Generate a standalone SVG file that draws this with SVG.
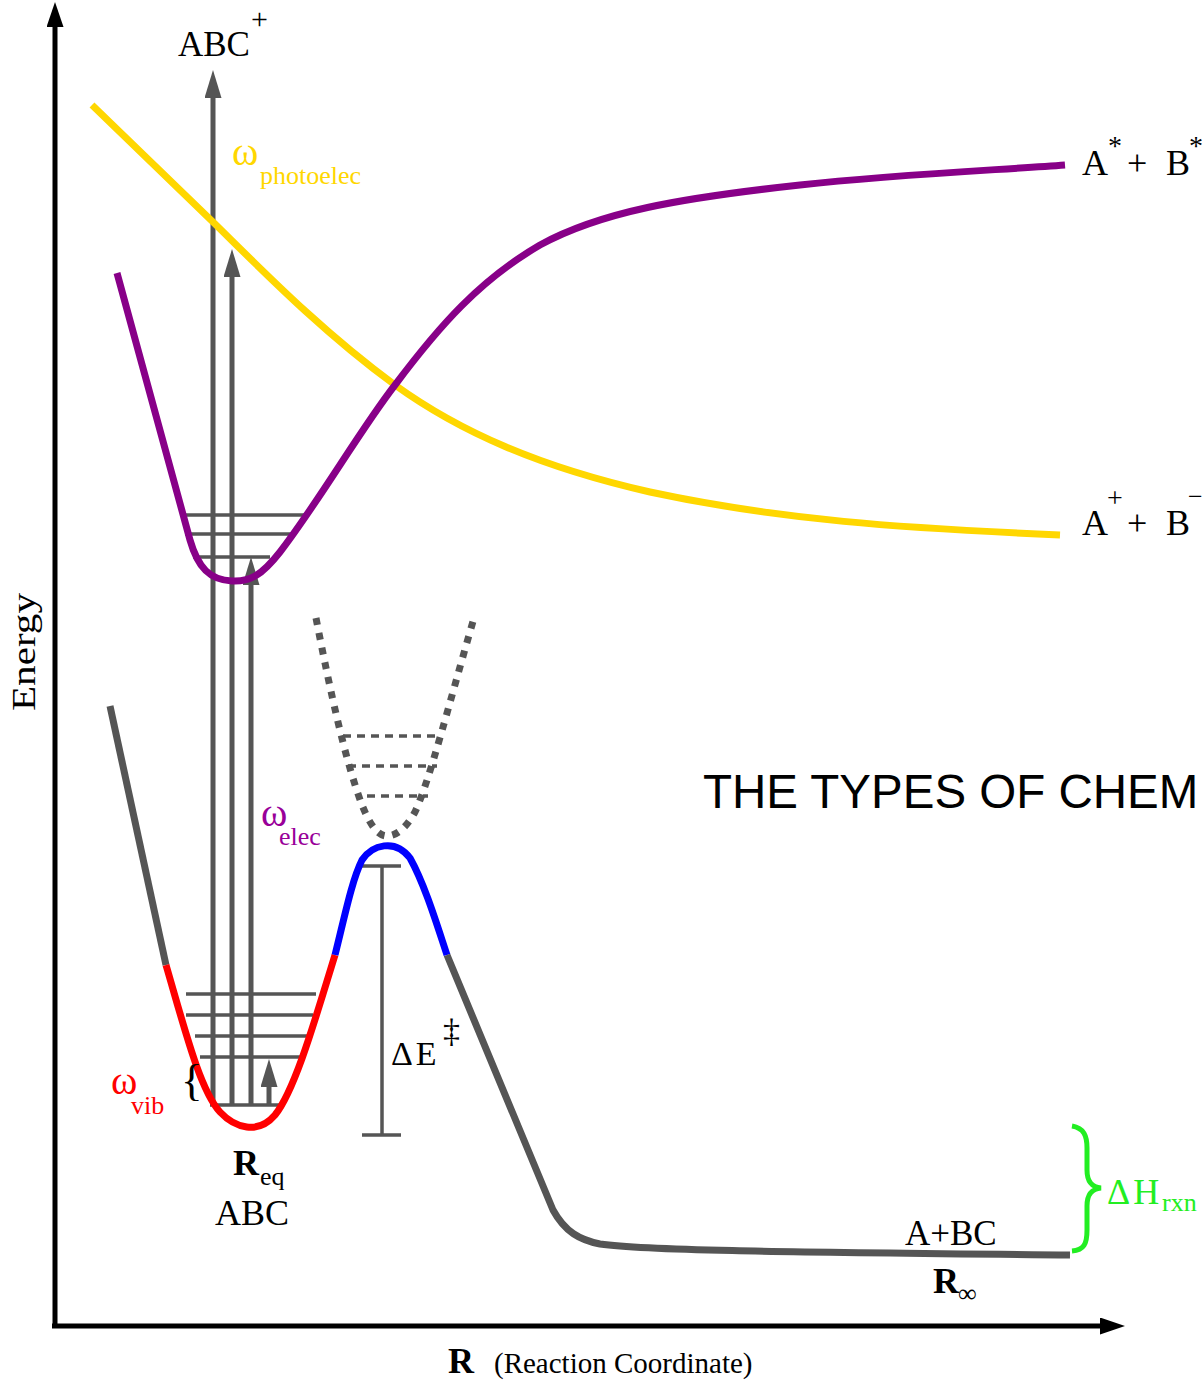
<svg xmlns="http://www.w3.org/2000/svg" width="1202" height="1382" viewBox="0 0 1202 1382">
<style>
.t{font-family:"Liberation Serif","Times New Roman",serif;fill:#000}
.b{font-weight:bold}
.lvl{stroke:#555;stroke-width:3.5;fill:none}
.arr{stroke:#555;stroke-width:5;fill:none}
.crv{fill:none;stroke-width:7;stroke-linejoin:round}
</style>
<defs>
<marker id="ah" markerUnits="userSpaceOnUse" markerWidth="30" markerHeight="20" refX="1" refY="8.5" orient="auto"><path d="M0,0 L28,8.5 L0,17 Z" fill="#555"/></marker>
<marker id="ahk" markerUnits="userSpaceOnUse" markerWidth="30" markerHeight="20" refX="1" refY="8.5" orient="auto"><path d="M0,0 L25,8.5 L0,17 Z" fill="#000"/></marker>
</defs>
<rect width="1202" height="1382" fill="#fff"/>

<g id="axes">
<line x1="55" y1="1328" x2="55" y2="26" stroke="#000" stroke-width="5" marker-end="url(#ahk)"/>
<line x1="52" y1="1326" x2="1101" y2="1326" stroke="#000" stroke-width="5" marker-end="url(#ahk)"/>
</g>

<g id="levels">
<line class="lvl" x1="185" y1="515" x2="307" y2="515"/>
<line class="lvl" x1="185" y1="534" x2="292" y2="534"/>
<line class="lvl" x1="193" y1="557" x2="270" y2="557"/>
<line class="lvl" x1="186" y1="994" x2="316" y2="994"/>
<line class="lvl" x1="186" y1="1015" x2="313" y2="1015"/>
<line class="lvl" x1="195" y1="1036" x2="307" y2="1036"/>
<line class="lvl" x1="200" y1="1057" x2="302" y2="1057"/>
<line class="lvl" x1="210" y1="1105" x2="282" y2="1105"/>
</g>

<g id="connectors">
<line class="arr" x1="213" y1="1105" x2="213" y2="97" marker-end="url(#ah)"/>
<line class="arr" x1="232" y1="1105" x2="232" y2="276" marker-end="url(#ah)"/>
<line class="arr" x1="251" y1="1105" x2="251" y2="584" marker-end="url(#ah)"/>
<line class="arr" x1="269" y1="1105" x2="269" y2="1086" marker-end="url(#ah)"/>
<g id="deltaE-bar" stroke="#555" stroke-width="3.5">
<line x1="382" y1="866" x2="382" y2="1135"/>
<line x1="362" y1="866" x2="401" y2="866"/>
<line x1="362" y1="1135" x2="401" y2="1135"/>
</g>
</g>

<g id="yellow-curve">
<path class="crv" stroke="#FFD700" d="M92,105 L213,222 C260,268 320,330 395,385 C460,432 540,467 650,492 C780,520 900,528 1060,535"/>
</g>
<g id="purple-curve">
<path class="crv" stroke="#880088" d="M117,273 L190,540 C198,568 210,580 232,581 C250,582 262,575 280,552 C320,500 360,430 395,385 C440,325 480,280 540,245 C600,212 680,198 800,185 C900,174 1000,170 1065,165"/>
</g>
<g id="ground-curve">
<path class="crv" stroke="#555" d="M110,706 L166,965"/>
<path class="crv" stroke="#FF0000" d="M166,965 C185,1030 200,1090 220,1112 C235,1128 258,1135 275,1115 C295,1090 315,1020 335,955"/>
<path class="crv" stroke="#0000FF" d="M335,955 C345,915 352,880 362,860 C372,845 395,838 410,858 C425,885 437,925 447,955"/>
<path class="crv" stroke="#555" d="M447,955 L553,1210 C565,1232 580,1240 600,1244 C650,1251 800,1252 1070,1255"/>
</g>
<g id="ts-curve">
<path fill="none" stroke="#555" stroke-width="7" stroke-dasharray="7,8" d="M316,618 C330,690 345,760 362,805 C372,830 380,836 387,836 C395,836 405,830 415,812 C430,780 450,700 474,618"/>
<g stroke="#555" stroke-width="3.5" stroke-dasharray="8,6">
<line x1="343" y1="736" x2="440" y2="736"/>
<line x1="348" y1="766" x2="437" y2="766"/>
<line x1="367" y1="796" x2="428" y2="796"/>
</g>
</g>
<g id="brace-H">
<path fill="none" stroke="#22EE22" stroke-width="5" d="M1072,1126 C1084,1128 1087,1136 1087,1148 L1087,1170 C1087,1182 1092,1187 1101,1188 C1092,1189 1087,1194 1087,1206 L1087,1230 C1087,1244 1084,1250 1072,1251"/>
</g>

<g id="labels">
<text class="t" x="178" y="56" font-size="35">ABC</text>
<text class="t" x="251" y="29" font-size="30">+</text>
<text class="t" x="232" y="165" font-size="40" style="fill:#FFD700">ω</text>
<text class="t" x="260" y="184" font-size="26" style="fill:#FFD700">photoelec</text>
<text class="t" x="261" y="826" font-size="40" style="fill:#990099">ω</text>
<text class="t" x="279" y="845" font-size="26" style="fill:#990099">elec</text>
<text class="t" x="111" y="1094" font-size="40" style="fill:#FF0000">ω</text>
<text class="t" x="131" y="1114" font-size="26" style="fill:#FF0000">vib</text>
<text class="t" x="181" y="1095" font-size="45">{</text>
<text class="t b" x="233" y="1175" font-size="36">R</text>
<text class="t" x="260" y="1185" font-size="26">eq</text>
<text class="t" x="215" y="1225" font-size="36">ABC</text>
<text class="t" x="391" y="1065" font-size="34" letter-spacing="3">ΔE</text>
<text class="t" x="443" y="1042" font-size="34">‡</text>
<text class="t" x="1082" y="175" font-size="36">A</text>
<text class="t" x="1108" y="155" font-size="28">*</text>
<text class="t" x="1127" y="175" font-size="36">+</text>
<text class="t" x="1166" y="175" font-size="36">B</text>
<text class="t" x="1189" y="155" font-size="28">*</text>
<text class="t" x="1082" y="535" font-size="36">A</text>
<text class="t" x="1107" y="507" font-size="28">+</text>
<text class="t" x="1127" y="535" font-size="36">+</text>
<text class="t" x="1166" y="535" font-size="36">B</text>
<text class="t" x="1188" y="505" font-size="26">−</text>
<text class="t" x="1107" y="1204" font-size="36" letter-spacing="3" style="fill:#22EE22">ΔH</text>
<text class="t" x="1162" y="1211" font-size="26" style="fill:#22EE22">rxn</text>
<text class="t" x="905" y="1245" font-size="35">A+BC</text>
<text class="t b" x="933" y="1293" font-size="36">R</text>
<text class="t" x="958" y="1302" font-size="26">∞</text>
<text class="t b" x="448" y="1373" font-size="36">R</text>
<text class="t" x="494" y="1373" font-size="29">(Reaction Coordinate)</text>
<text class="t" transform="translate(35,652) rotate(-90)" text-anchor="middle" font-size="34" textLength="118" lengthAdjust="spacingAndGlyphs">Energy</text>
<text x="703" y="808" font-family="'Liberation Sans',Arial,sans-serif" font-size="47.5" fill="#000">THE TYPES OF CHEM</text>
</g>
</svg>
